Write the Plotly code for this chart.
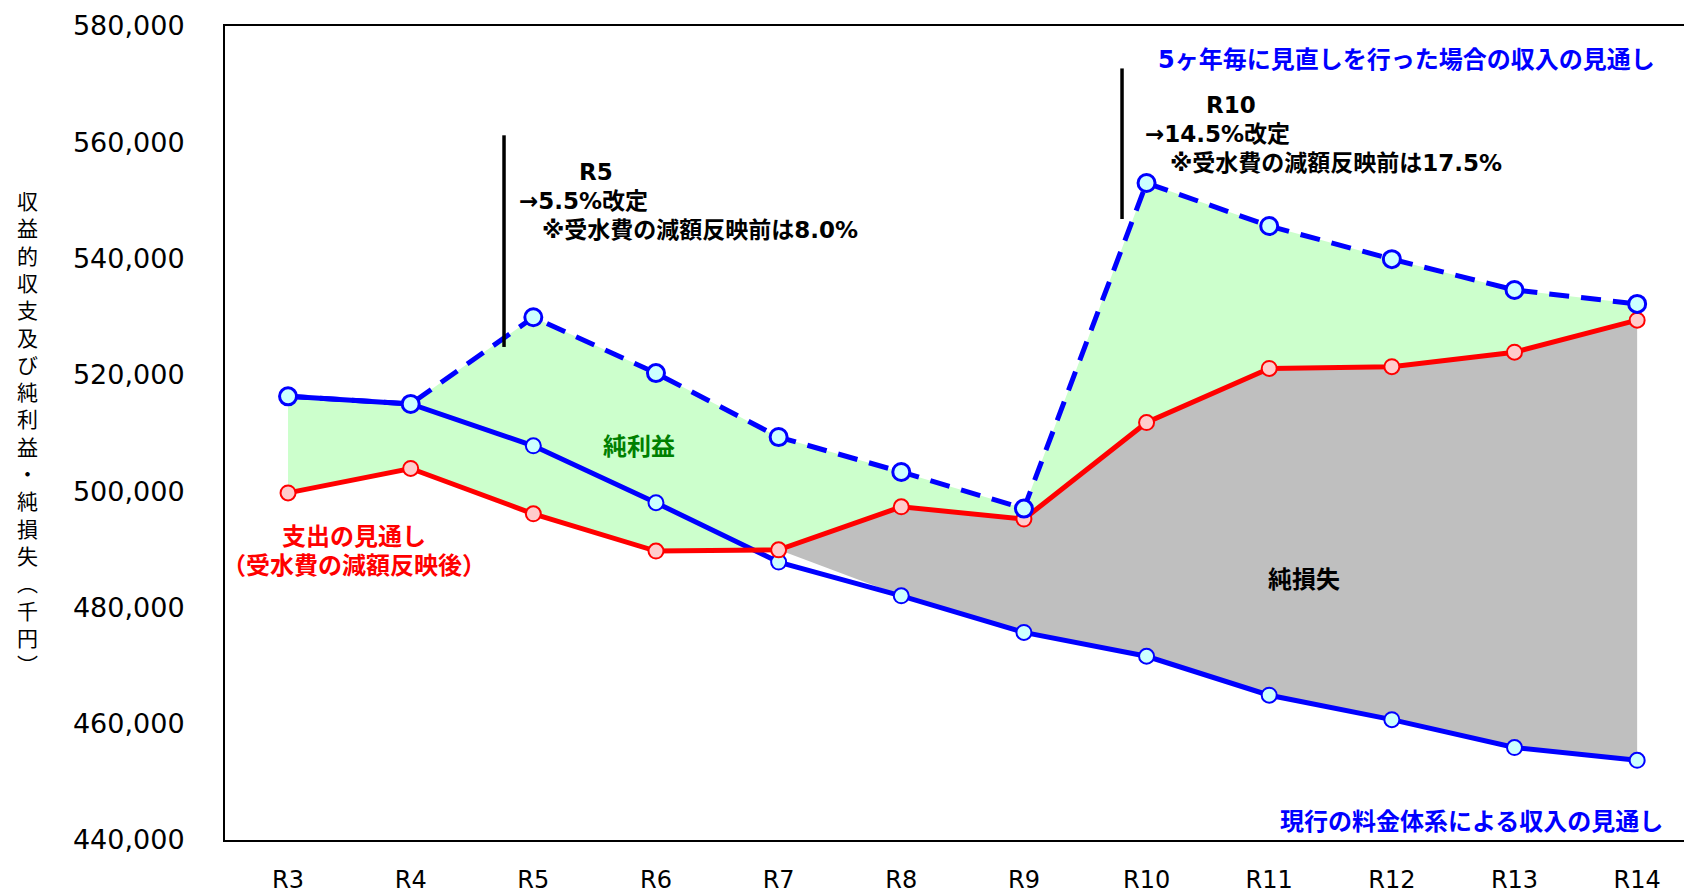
import numpy as np
import plotly.graph_objects as go

# 収益的収支の見通し（千円）
years = ["R3", "R4", "R5", "R6", "R7", "R8", "R9", "R10", "R11", "R12", "R13", "R14"]
revenue_current = [516300, 515000, 507800, 498000, 487800, 482000,
                   475700, 471600, 464900, 460700, 455900, 453700]
expense = [499700, 503900, 496100, 489700, 489900, 497300,
           495200, 511800, 521100, 521400, 523900, 529400]
revenue_revised = [516300, 515000, 529900, 520300, 509300, 503300,
                   497000, 553000, 545600, 539900, 534600, 532200]
y_ticks = [440000, 460000, 480000, 500000, 520000, 540000, 560000, 580000]

BLUE = "#0000FF"
RED = "#FF0000"
LATIN = "DejaVu Sans, Noto Sans CJK JP"
CJK = "Noto Sans CJK JP"

x = np.arange(len(years))
rev_cur = np.array(revenue_current)
rev_rev = np.array(revenue_revised)
exp_ = np.array(expense)

# plot area in pixels
W, H = 1684, 895
L, R, T, B = 225, 1684, 26, 840


def px(xp):
    return (xp - L) / (R - L)


def py(yp):
    return (B - yp) / (B - T)


fig = go.Figure()

# 純利益 area: between expense and the higher revenue outlook
top = np.maximum(rev_cur, rev_rev)
fig.add_trace(go.Scatter(x=x, y=exp_, mode="lines", line=dict(width=0),
                         hoverinfo="skip", showlegend=False))
fig.add_trace(go.Scatter(x=x, y=top, mode="lines", line=dict(width=0),
                         fill="tonexty", fillcolor="#CCFFCC",
                         hoverinfo="skip", showlegend=False))

# 純損失 area: from R7 on, between current revenue and expense
start = years.index("R7")
loss_base = np.concatenate([[exp_[start]], rev_cur[start + 1:]])
fig.add_trace(go.Scatter(x=x[start:], y=loss_base, mode="lines", line=dict(width=0),
                         hoverinfo="skip", showlegend=False))
fig.add_trace(go.Scatter(x=x[start:], y=exp_[start:], mode="lines", line=dict(width=0),
                         fill="tonexty", fillcolor="#BFBFBF",
                         hoverinfo="skip", showlegend=False))

# outlook lines
fig.add_trace(go.Scatter(x=x, y=rev_cur, mode="lines+markers",
                         line=dict(color=BLUE, width=5),
                         marker=dict(size=15, color="#CCFFFF",
                                     line=dict(color=BLUE, width=2)),
                         showlegend=False))
fig.add_trace(go.Scatter(x=x, y=exp_, mode="lines+markers",
                         line=dict(color=RED, width=5),
                         marker=dict(size=15, color="#FFCCCC",
                                     line=dict(color=RED, width=2)),
                         showlegend=False))
fig.add_trace(go.Scatter(x=x, y=rev_rev, mode="lines+markers",
                         line=dict(color=BLUE, width=5, dash="20px,12px"),
                         marker=dict(size=17, color="#CCFFFF",
                                     line=dict(color=BLUE, width=3)),
                         showlegend=False))

# revision markers
for xs, y0, y1 in [(1.761, 524800, 561200), (6.80, 546800, 572700)]:
    fig.add_shape(type="line", xref="x", yref="y", x0=xs, x1=xs, y0=y0, y1=y1,
                  line=dict(color="black", width=3.5))

ann = []


def text(t, xp, yp, size=23, color="black", anchor="center", bold=True, family=LATIN):
    s = f"<b>{t}</b>" if bold else t
    ann.append(dict(text=s, xref="paper", yref="paper", x=px(xp), y=py(yp),
                    xanchor=anchor, yanchor="middle", showarrow=False,
                    font=dict(size=size, color=color, family=family)))


text("R5", 596, 172)
text("→5.5%改定", 517, 201, anchor="left")
text("※受水費の減額反映前は8.0%", 540, 230, anchor="left")

text("R10", 1231, 105)
text("→14.5%改定", 1143, 134, anchor="left")
text("※受水費の減額反映前は17.5%", 1168, 163, anchor="left")

text("5ヶ年毎に見直しを行った場合の収入の見通し", 1657, 60, size=24, color=BLUE, anchor="right")
text("現行の料金体系による収入の見通し", 1665, 822, size=24, color=BLUE, anchor="right")
text("支出の見通し", 354, 537, size=24, color=RED)
text("（受水費の減額反映後）", 354, 566, size=24, color=RED)
text("純利益", 639, 447, size=24, color="#008000")
text("純損失", 1304, 580, size=24, color="black")

# vertical axis title, stacked characters
title = "収益的収支及び純利益・純損失︵千円︶"
text("<br>".join(title), 27, 432, size=21, bold=False, family=CJK)

fig.update_layout(
    width=W, height=H,
    margin=dict(l=L, r=W - R, t=T, b=H - B, pad=0),
    plot_bgcolor="white", paper_bgcolor="white",
    font=dict(family=LATIN, color="black"),
    annotations=ann,
    showlegend=False,
)
fig.update_xaxes(range=[-0.514, 11.382], tickmode="array", tickvals=x, ticktext=years,
                 showline=True, linecolor="black", linewidth=2, mirror=True,
                 showgrid=False, zeroline=False, ticks="", automargin=False,
                 tickfont=dict(size=24, family=LATIN, color="black"),
                 ticklabelstandoff=17)
fig.update_yaxes(range=[440000, 580000], tickmode="array", tickvals=y_ticks,
                 tickformat=",", showline=True, linecolor="black", linewidth=2,
                 showgrid=False, zeroline=False, ticks="", automargin=False,
                 tickfont=dict(size=27, family=LATIN, color="black"),
                 ticklabelstandoff=33)

fig.write_html("out.html")
